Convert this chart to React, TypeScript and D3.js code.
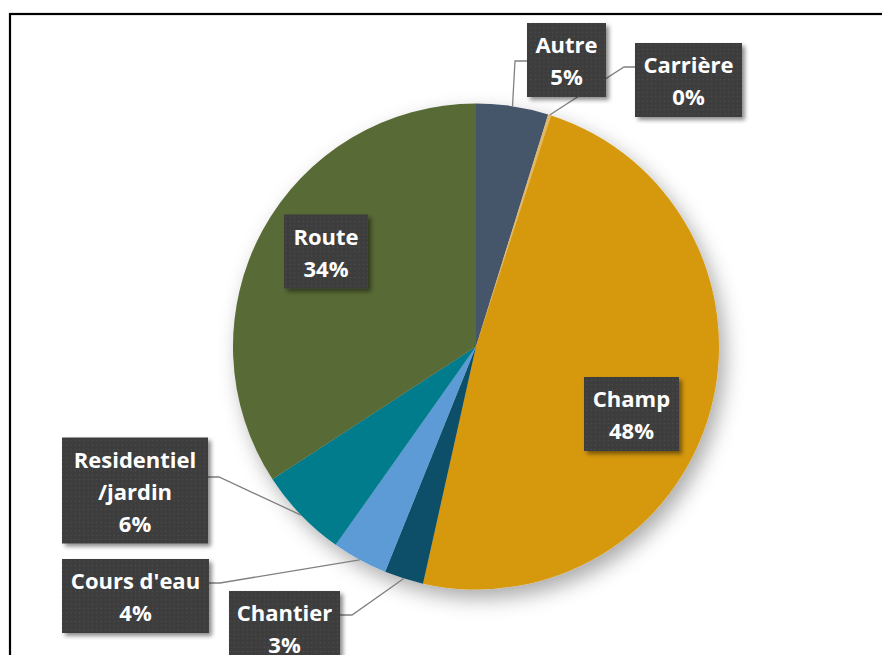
import * as d3 from "d3"

// slice data, clockwise from 12 o'clock
const CATEGORIES = ["Autre", "Carrière", "Champ", "Chantier", "Cours d'eau", "Residentiel\n/jardin", "Route"]
const VALUES = [4.8, 0.2, 48.5, 2.6, 3.7, 6.0, 34.2]
const COLORS = ["#44546a", "#e2b866", "#d6990b", "#0e4f68", "#5b9bd5", "#027b8d", "#596b34"]

const WIDTH = 882
const HEIGHT = 655
const CX = 476
const CY = 346.5
const R = 243
const LINE_H = 32

// label box placement (center, width) and leader line attachment
interface LabelLayout {
  cx: number
  cy: number
  w: number
  leader?: { side: "left" | "right"; y: number; elbow: number }
}
const LAYOUT: Record<string, LabelLayout> = {
  Autre: { cx: 566.5, cy: 60, w: 79, leader: { side: "left", y: 61, elbow: 515 } },
  "Carrière": { cx: 688.5, cy: 80, w: 107, leader: { side: "left", y: 67, elbow: 624 } },
  Champ: { cx: 631.5, cy: 414, w: 95 },
  Chantier: { cx: 284.5, cy: 628, w: 111, leader: { side: "right", y: 615, elbow: 352 } },
  "Cours d'eau": { cx: 135.5, cy: 596, w: 147, leader: { side: "right", y: 583, elbow: 220 } },
  "Residentiel\n/jardin": { cx: 135, cy: 490.5, w: 146, leader: { side: "right", y: 477, elbow: 219 } },
  Route: { cx: 326, cy: 251.5, w: 84 },
}

export default function App() {
  const total = d3.sum(VALUES)
  const data = CATEGORIES.map((c, i) => ({ name: c, value: VALUES[i], color: COLORS[i] }))
  const arcs = d3
    .pie<(typeof data)[number]>()
    .sort(null)
    .value((d) => d.value)(data)
  const arcGen = d3.arc<d3.PieArcDatum<(typeof data)[number]>>().innerRadius(0).outerRadius(R)

  return (
    <svg width={WIDTH} height={HEIGHT} style={{ position: "absolute", left: 0, top: 0, background: "#fff" }}>
      <defs>
        <filter id="pieShadow" x="-20%" y="-20%" width="150%" height="150%">
          <feDropShadow dx="6" dy="9" stdDeviation="10" floodColor="#000" floodOpacity="0.33" />
        </filter>
        <filter id="boxShadow" x="-20%" y="-20%" width="150%" height="150%">
          <feDropShadow dx="3" dy="3" stdDeviation="2" floodColor="#000" floodOpacity="0.45" />
        </filter>
        <pattern id="dots" width="4.3" height="4.3" patternUnits="userSpaceOnUse">
          <rect width="4.3" height="4.3" fill="#3d3d3d" />
          <rect x="1.5" y="1.5" width="1.3" height="1.3" fill="#4d4d4d" />
        </pattern>
      </defs>

      <rect x={10} y={14} width={WIDTH + 20} height={HEIGHT + 20} fill="#fff" stroke="#000" strokeWidth={2.2} />

      <g transform={`translate(${CX},${CY})`} filter="url(#pieShadow)">
        {arcs.map((a) => (
          <path key={a.data.name} d={arcGen(a) ?? ""} fill={a.data.color} />
        ))}
      </g>

      {/* leader lines */}
      {arcs.map((a) => {
        const l = LAYOUT[a.data.name]
        if (!l.leader) return null
        const mid = (a.startAngle + a.endAngle) / 2
        const px = CX + Math.sin(mid) * R
        const py = CY - Math.cos(mid) * R
        const bx = l.leader.side === "left" ? l.cx - l.w / 2 : l.cx + l.w / 2
        return (
          <polyline
            key={a.data.name}
            points={`${bx},${l.leader.y} ${l.leader.elbow},${l.leader.y} ${px},${py}`}
            fill="none"
            stroke="#808080"
            strokeWidth={1.3}
          />
        )
      })}

      {/* label boxes */}
      {arcs.map((a) => {
        const l = LAYOUT[a.data.name]
        const lines = [...a.data.name.split("\n"), `${Math.round((a.data.value / total) * 100)}%`]
        const h = lines.length * LINE_H + 10
        return (
          <g key={a.data.name}>
            <rect
              x={l.cx - l.w / 2}
              y={l.cy - h / 2}
              width={l.w}
              height={h}
              fill="url(#dots)"
              filter="url(#boxShadow)"
            />
            {lines.map((t, i) => (
              <text
                key={i}
                x={l.cx}
                y={l.cy + (i - (lines.length - 1) / 2) * LINE_H + 9}
                textAnchor="middle"
                fill="#fff"
                fontFamily="'Open Sans', sans-serif"
                fontWeight={700}
                fontSize={22}
              >
                {t}
              </text>
            ))}
          </g>
        )
      })}
    </svg>
  )
}
